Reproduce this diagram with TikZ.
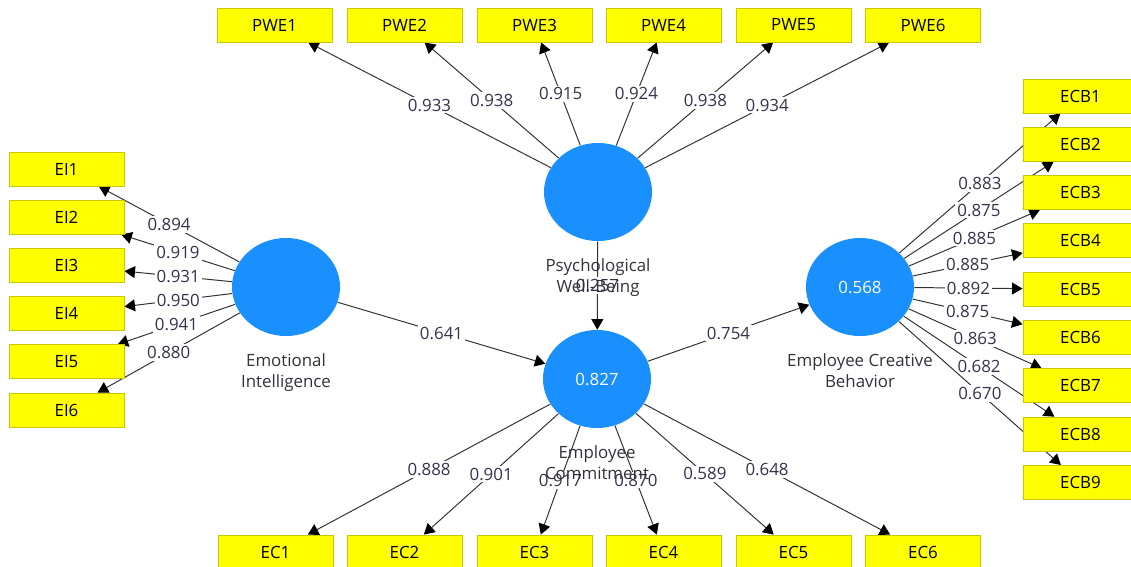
\documentclass[tikz,border=0pt]{standalone}
\usepackage{fontspec}
\setmainfont{Open Sans}
\usepackage{tikz}
\usetikzlibrary{positioning,shapes.geometric,backgrounds,arrows.meta}

\definecolor{indyellow}{RGB}{255,255,0}
\definecolor{indborder}{RGB}{200,200,0}
\definecolor{latblue}{RGB}{26,144,255}
\definecolor{pathgray}{RGB}{50,50,50}
\definecolor{coefgray}{RGB}{55,50,75}
\definecolor{namegray}{RGB}{50,50,60}

\tikzset{
  indicator/.style={rectangle, draw=indborder, fill=indyellow, line width=0.6pt,
    minimum width=2.875cm, minimum height=0.85cm, inner sep=0pt, text=black},
  latent/.style={ellipse, fill=latblue, minimum width=2.7cm, minimum height=2.45cm,
    inner sep=0pt, text=white},
  latentname/.style={align=center, text=namegray, label distance=9pt},
  loading/.style={->, pathgray, line width=0.7pt},
  coef/.style={fill=white, inner sep=1.5pt, text=coefgray},
}

\begin{document}
\begin{tikzpicture}[x=0.025cm, y=-0.025cm, >={Triangle[length=7.5pt,width=8.5pt,color=black]},
    font=\fontsize{12}{14.5}\selectfont] % 1 Einheit = 1 Pixel

    \useasboundingbox (0,0) rectangle (1131,566);

    % latente Variablen
    \node (ei) at (286,287) [latent, label={[latentname]below:Emotional\\Intelligence}] {};
    \node (pwe) at (598,192) [latent, label={[latentname]below:Psychological\\Well-Being}] {};
    \node (ec) at (597,379) [latent, label={[latentname]below:Employee\\Commitment}] {0.827};
    \node (ecb) at (860,287) [latent, label={[latentname]below:Employee Creative\\Behavior}] {0.568};

    % Indikatoren oben
    \node (PWE1) at (274.5,25) [indicator] {PWE1};
    \node (PWE2) at (404.5,25) [indicator] {PWE2};
    \node (PWE3) at (534.5,25) [indicator] {PWE3};
    \node (PWE4) at (663.5,25) [indicator] {PWE4};
    \node (PWE5) at (793.5,25) [indicator] {PWE5};
    \node (PWE6) at (923,25) [indicator] {PWE6};

    % Indikatoren links
    \node (EI1) at (66.5,169) [indicator] {EI1};
    \node (EI2) at (66.5,217.2) [indicator] {EI2};
    \node (EI3) at (66.5,265.4) [indicator] {EI3};
    \node (EI4) at (66.5,313.6) [indicator] {EI4};
    \node (EI5) at (66.5,361.8) [indicator] {EI5};
    \node (EI6) at (66.5,410) [indicator] {EI6};

    % Indikatoren unten
    \node (EC1) at (275.5,552) [indicator] {EC1};
    \node (EC2) at (404.5,552) [indicator] {EC2};
    \node (EC3) at (534.5,552) [indicator] {EC3};
    \node (EC4) at (663.5,552) [indicator] {EC4};
    \node (EC5) at (793.5,552) [indicator] {EC5};
    \node (EC6) at (923,552) [indicator] {EC6};

    % Indikatoren rechts
    \node (ECB1) at (1080.5,96) [indicator] {ECB1};
    \node (ECB2) at (1080.5,144.3) [indicator] {ECB2};
    \node (ECB3) at (1080.5,192.6) [indicator] {ECB3};
    \node (ECB4) at (1080.5,240.9) [indicator] {ECB4};
    \node (ECB5) at (1080.5,289.2) [indicator] {ECB5};
    \node (ECB6) at (1080.5,337.5) [indicator] {ECB6};
    \node (ECB7) at (1080.5,385.8) [indicator] {ECB7};
    \node (ECB8) at (1080.5,434.1) [indicator] {ECB8};
    \node (ECB9) at (1080.5,482.4) [indicator] {ECB9};

    \begin{scope}[on background layer]
    % Ladungen
    \draw[loading] (pwe) -- node[coef] {0.933} (PWE1);
    \draw[loading] (pwe) -- node[coef] {0.938} (PWE2);
    \draw[loading] (pwe) -- node[coef] {0.915} (PWE3);
    \draw[loading] (pwe) -- node[coef] {0.924} (PWE4);
    \draw[loading] (pwe) -- node[coef] {0.938} (PWE5);
    \draw[loading] (pwe) -- node[coef] {0.934} (PWE6);

    \draw[loading] (ei) -- node[coef] {0.894} (EI1);
    \draw[loading] (ei) -- node[coef] {0.919} (EI2);
    \draw[loading] (ei) -- node[coef] {0.931} (EI3);
    \draw[loading] (ei) -- node[coef] {0.950} (EI4);
    \draw[loading] (ei) -- node[coef] {0.941} (EI5);
    \draw[loading] (ei) -- node[coef] {0.880} (EI6);

    \draw[loading] (ec) -- node[coef] {0.888} (EC1);
    \draw[loading] (ec) -- node[coef] {0.901} (EC2);
    \draw[loading] (ec) -- node[coef] {0.917} (EC3);
    \draw[loading] (ec) -- node[coef] {0.870} (EC4);
    \draw[loading] (ec) -- node[coef] {0.589} (EC5);
    \draw[loading] (ec) -- node[coef] {0.648} (EC6);

    \draw[loading] (ecb) -- node[coef] {0.883} (ECB1);
    \draw[loading] (ecb) -- node[coef] {0.875} (ECB2);
    \draw[loading] (ecb) -- node[coef] {0.885} (ECB3);
    \draw[loading] (ecb) -- node[coef] {0.885} (ECB4);
    \draw[loading] (ecb) -- node[coef] {0.892} (ECB5);
    \draw[loading] (ecb) -- node[coef] {0.875} (ECB6);
    \draw[loading] (ecb) -- node[coef] {0.863} (ECB7);
    \draw[loading] (ecb) -- node[coef] {0.682} (ECB8);
    \draw[loading] (ecb) -- node[coef] {0.670} (ECB9);

    % Strukturmodell
    \draw[loading] (pwe) -- node[coef] {0.257} (ec);
    \draw[loading] (ei) -- node[coef] {0.641} (ec);
    \draw[loading] (ec) -- node[coef] {0.754} (ecb);
    \end{scope}

\end{tikzpicture}
\end{document}
